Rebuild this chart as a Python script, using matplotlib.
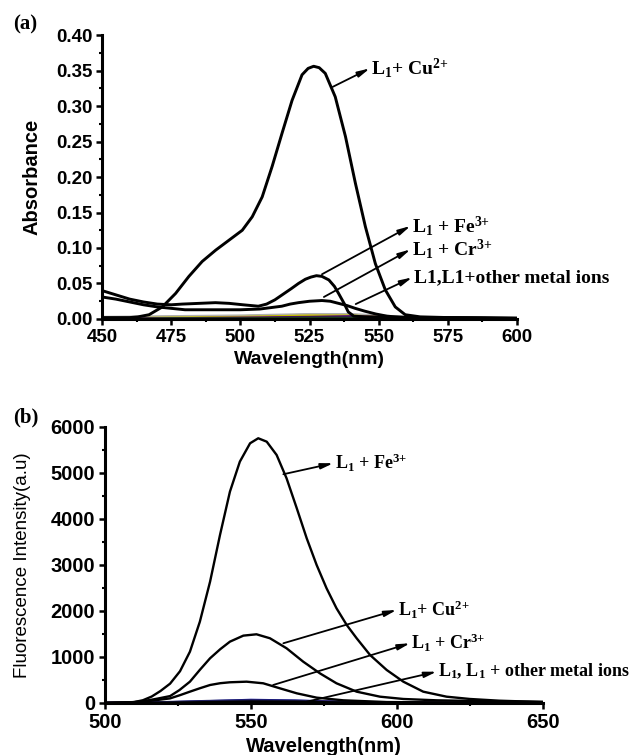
import matplotlib
matplotlib.use('Agg')
import matplotlib.pyplot as plt
from matplotlib.ticker import MultipleLocator

plt.rcParams['font.family'] = ['Liberation Sans', 'DejaVu Sans']
plt.rcParams['mathtext.fontset'] = 'custom'
plt.rcParams['mathtext.rm'] = 'Liberation Serif:bold'
plt.rcParams['mathtext.it'] = 'Liberation Serif:bold'
plt.rcParams['mathtext.bf'] = 'Liberation Serif:bold'

# ---- panel (a): absorbance ----
wl_cu_a = [450, 455, 460, 463, 467, 471.8, 476.6, 481.4, 486.2, 491.1, 495.9, 500.7,
           504.3, 507.9, 511.5, 515.1, 518.7, 522.3, 524.5, 526.5, 528.5, 530.7, 534.3,
           538, 541.6, 545.2, 548.8, 552.4, 556, 559.6, 565, 575, 600]
abs_cu = [0.002, 0.002, 0.002, 0.003, 0.006, 0.017, 0.036, 0.060, 0.081, 0.097, 0.111,
          0.125, 0.144, 0.172, 0.215, 0.262, 0.308, 0.344, 0.353, 0.356, 0.354, 0.346,
          0.313, 0.257, 0.191, 0.130, 0.078, 0.041, 0.017, 0.006, 0.003, 0.002, 0.001]

wl_fe_a = [450, 455, 460, 465, 470, 475, 479, 485, 491, 496, 501, 506.5, 509.5, 512.5,
           515.5, 518.5, 521, 523.5, 525.5, 527.5, 529.5, 532, 534, 535.5, 537.5, 539,
           541, 545, 560, 600]
abs_fe = [0.040, 0.034, 0.028, 0.024, 0.021, 0.020, 0.021, 0.022, 0.023, 0.022, 0.020,
          0.018, 0.021, 0.027, 0.035, 0.043, 0.050, 0.056, 0.059, 0.061, 0.060, 0.055,
          0.046, 0.036, 0.022, 0.010, 0.004, 0.003, 0.002, 0.001]

wl_cr_a = [450, 455, 460, 465, 470, 475, 480, 490, 500, 507, 511, 515, 518, 521, 525,
           529.5, 532.5, 535.5, 538.5, 541.5, 545, 549, 553, 556, 560, 570, 600]
abs_cr = [0.031, 0.028, 0.024, 0.020, 0.017, 0.015, 0.013, 0.013, 0.013, 0.014, 0.016,
          0.018, 0.021, 0.023, 0.025, 0.026, 0.025, 0.022, 0.019, 0.015, 0.011, 0.007,
          0.004, 0.003, 0.002, 0.002, 0.001]

wl_other_a = [450, 475, 500, 525, 540, 550, 560, 575, 600]
abs_others = {
    'black': [0.002, 0.003, 0.004, 0.006, 0.006, 0.004, 0.003, 0.002, 0.001],
    '#b0b0b0': [0.003, 0.004, 0.005, 0.007, 0.007, 0.005, 0.003, 0.002, 0.001],
    '#c8c000': [0.001, 0.002, 0.003, 0.005, 0.005, 0.003, 0.002, 0.001, 0.001],
    '#4b0082': [0.001, 0.001, 0.002, 0.003, 0.004, 0.003, 0.002, 0.001, 0.001],
    '#1a3a1a': [0.000, 0.001, 0.001, 0.002, 0.002, 0.002, 0.001, 0.001, 0.000],
}

# ---- panel (b): fluorescence ----
wl_fe_b = [500, 505, 510, 513, 516, 519, 522.3, 525.7, 529.1, 532.5, 536, 539.4, 542.8,
           546.2, 549.7, 552.5, 555.4, 558.8, 562.2, 565.7, 569.1, 572.5, 575.9, 579.3,
           582.8, 586.2, 590.8, 596.5, 602.2, 609, 617, 625, 635, 650]
fl_fe = [0, 8, 20, 60, 140, 260, 420, 690, 1115, 1767, 2637, 3652, 4593, 5246, 5645,
         5754, 5680, 5391, 4884, 4232, 3580, 3000, 2493, 2059, 1696, 1407, 1043, 717,
         463, 246, 137, 87, 50, 20]

wl_cu_b = [500, 508, 512, 515, 518, 522.3, 525.5, 529.1, 532.5, 536, 539.5, 542.8,
           547.4, 551.9, 556.5, 562.2, 567.9, 573.6, 579.3, 586.2, 594.2, 602.2, 613.6,
           625, 650]
fl_cu = [0, 10, 30, 60, 95, 150, 280, 463, 720, 972, 1170, 1333, 1464, 1493, 1407, 1189,
         898, 645, 428, 246, 137, 87, 58, 45, 25]

wl_cr_b = [500, 508, 512, 515, 518, 522.3, 525.7, 529.1, 532.5, 536, 539.5, 542.8,
           548.5, 554.2, 559.9, 565.7, 572.5, 581.6, 596.5, 620, 650]
fl_cr = [0, 8, 25, 45, 65, 100, 170, 246, 320, 391, 430, 450, 463, 428, 319, 210, 116,
         58, 20, 10, 5]

wl_other_b = [500, 520, 535, 550, 565, 580, 600, 625, 650]
fl_others = {
    '#1010a0': [5, 15, 40, 70, 55, 30, 12, 5, 3],
    '#8b0000': [3, 10, 25, 45, 35, 20, 8, 3, 2],
    '#202060': [8, 20, 45, 60, 50, 28, 10, 4, 2],
    'black': [2, 8, 20, 35, 30, 15, 6, 2, 1],
}

fig = plt.figure(figsize=(6.44, 7.55), dpi=100)
ax1 = fig.add_axes([0.1584, 0.5775, 0.6444, 0.3761])
ax2 = fig.add_axes([0.163, 0.0689, 0.680, 0.3656])

serif_bold = dict(family='Liberation Serif', fontweight='bold')
arrow = dict(arrowstyle='-|>,head_length=0.6,head_width=0.14', color='black', lw=1.3,
             mutation_scale=12, shrinkA=0, shrinkB=0)


def label_with_arrow(ax, text, start, end, fs):
    # arrow runs from the curve to the label, label sits just after the head
    ax.annotate('', xy=end, xytext=start, arrowprops=arrow)
    ax.annotate(text, xy=end, xytext=(1, 0), textcoords='offset points',
                fontsize=fs, va='center', ha='left', **serif_bold)


# panel (a)
for col, vals in abs_others.items():
    ax1.plot(wl_other_a, vals, color=col, lw=1.5)
ax1.plot(wl_cr_a, abs_cr, color='black', lw=2.1)
ax1.plot(wl_fe_a, abs_fe, color='black', lw=2.1)
ax1.plot(wl_cu_a, abs_cu, color='black', lw=2.1)

ax1.set_xlim(450, 600)
ax1.set_ylim(0, 0.40)
ax1.xaxis.set_major_locator(MultipleLocator(25))
ax1.xaxis.set_minor_locator(MultipleLocator(12.5))
ax1.yaxis.set_major_locator(MultipleLocator(0.05))
ax1.yaxis.set_minor_locator(MultipleLocator(0.025))
ax1.yaxis.set_major_formatter(plt.FormatStrFormatter('%.2f'))
ax1.set_xlabel('Wavelength(nm)', fontsize=14, fontweight='bold')
ax1.set_ylabel('Absorbance', fontsize=14.5, fontweight='bold')
ax1.xaxis.set_label_coords(0.5, -0.112)
ax1.yaxis.set_label_coords(-0.147, 0.5)

label_with_arrow(ax1, 'L$_1$+ Cu$^{2{+}}$', (533.4, 0.327), (546.8, 0.353), 14)
label_with_arrow(ax1, 'L$_1$ + Fe$^{3{+}}$', (529.5, 0.063), (561.5, 0.131), 14)
label_with_arrow(ax1, 'L$_1$ + Cr$^{3{+}}$', (530.2, 0.031), (561.5, 0.098), 14)
label_with_arrow(ax1, 'L1,L1+other metal ions', (541.7, 0.021), (562.1, 0.0585), 14)

# panel (b)
for col, vals in fl_others.items():
    ax2.plot(wl_other_b, vals, color=col, lw=1.5)
ax2.plot(wl_cr_b, fl_cr, color='black', lw=1.7)
ax2.plot(wl_cu_b, fl_cu, color='black', lw=1.7)
ax2.plot(wl_fe_b, fl_fe, color='black', lw=1.7)

ax2.set_xlim(500, 650)
ax2.set_ylim(0, 6000)
ax2.xaxis.set_major_locator(MultipleLocator(50))
ax2.xaxis.set_minor_locator(MultipleLocator(25))
ax2.yaxis.set_major_locator(MultipleLocator(1000))
ax2.yaxis.set_minor_locator(MultipleLocator(500))
ax2.set_xlabel('Wavelength(nm)', fontsize=14.5, fontweight='bold')
ax2.set_ylabel('Fluorescence Intensity(a.u)', fontsize=13.5)
ax2.xaxis.set_label_coords(0.5, -0.122)
ax2.yaxis.set_label_coords(-0.169, 0.5)

label_with_arrow(ax2, 'L$_1$ + Fe$^{3{+}}$', (561.1, 4972), (578.2, 5211), 13)
label_with_arrow(ax2, 'L$_1$+ Cu$^{2{+}}$', (561.1, 1298), (599.9, 2022), 13)
label_with_arrow(ax2, 'L$_1$ + Cr$^{3{+}}$', (557.6, 391), (604.5, 1298), 13)
label_with_arrow(ax2, 'L$_1$, L$_1$ + other metal ions', (569.1, 28), (613.6, 680), 13)

for ax, fs in ((ax1, 13.5), (ax2, 14.5)):
    for side in ('top', 'right'):
        ax.spines[side].set_visible(False)
    for side in ('left', 'bottom'):
        ax.spines[side].set_linewidth(2.2)
    ax.tick_params(which='major', direction='out', length=4, width=1.8,
                   labelsize=fs, pad=3)
    ax.tick_params(which='minor', direction='out', length=2.5, width=1.5)
    for lab in ax.get_xticklabels() + ax.get_yticklabels():
        lab.set_fontweight('bold')

fig.text(0.02, 0.9616, '(a)', fontsize=15, va='baseline', **serif_bold)
fig.text(0.02, 0.441, '(b)', fontsize=15, va='baseline', **serif_bold)

fig.savefig('out.png', dpi=100)
